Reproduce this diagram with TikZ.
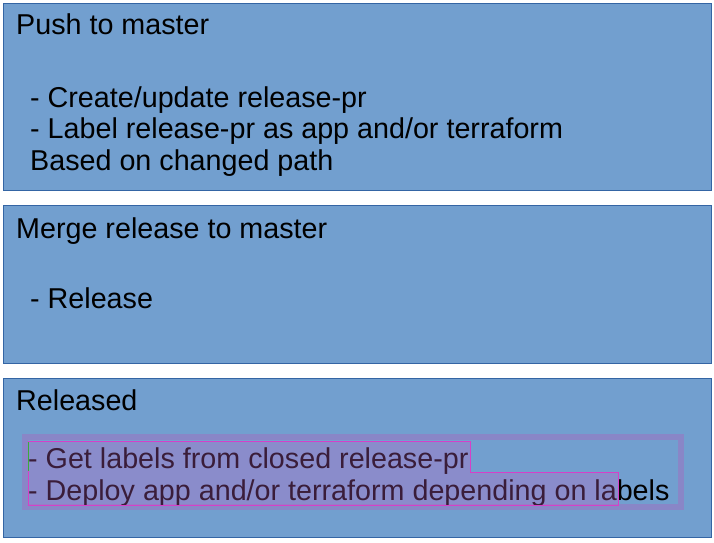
\documentclass[tikz,border=0pt]{standalone}
\usepackage{fontspec}
\setmainfont{Liberation Sans}
\usepackage{tikz}
\usetikzlibrary{calc}
\usepackage{color}
\definecolor{boxblue}{RGB}{114, 159, 207}
\definecolor{boxline}{RGB}{52, 101, 164}
\definecolor{framepurple}{RGB}{137, 134, 199}
\definecolor{selmagenta}{RGB}{194, 99, 194}
\definecolor{seledge}{RGB}{214, 64, 200}
\definecolor{cursorgreen}{RGB}{60, 170, 60}

\begin{document}
\begin{tikzpicture}[x=1pt, y=-1pt,
        line/.style={anchor=base west, inner sep=0pt, font=\fontsize{28.7}{32}\selectfont}]
            \useasboundingbox                                                 (0, 0) rectangle (714, 542);
            % the three step boxes
            \filldraw[color=boxline, fill=boxblue, line width=1pt]            (3, 3)   rectangle (711, 190);
            \filldraw[color=boxline, fill=boxblue, line width=1pt]            (3, 205) rectangle (711, 363);
            \filldraw[color=boxline, fill=boxblue, line width=1pt]            (3, 378) rectangle (711, 537);
            % frame round the text of the last box
            \draw[color=framepurple, line width=6pt]                          (25, 437) rectangle (681, 507);

            \node[line] (push)     at (16, 34)  {Push to master};
            \node[line] (create)   at (30, 107) {- Create/update release-pr};
            \node[line] (label)    at (30, 138) {- Label release-pr as app and/or terraform};
            \node[line] (based)    at (30, 170) {Based on changed path};

            \node[line] (merge)    at (16, 238) {Merge release to master};
            \node[line] (release)  at (30, 308) {- Release};

            \node[line] (released) at (16, 410) {Released};
            \node[line] (getlab)   at (28, 468) {- Get labels from closed release-pr};
            \node[line] (deploy)   at (28, 500) {- Deploy app and/or terraform depending on labels};

            % text selection
            \filldraw[color=seledge, fill=selmagenta, fill opacity=0.3, line width=0.8pt]
                (28, 441) -- (470, 441) -- (470, 472) -- (618, 472) -- (618, 505) -- (28, 505) -- cycle;
            \draw[color=cursorgreen, line width=0.8pt]                        (28.5, 442) -- (28.5, 471);
        \end{tikzpicture}
\end{document}
